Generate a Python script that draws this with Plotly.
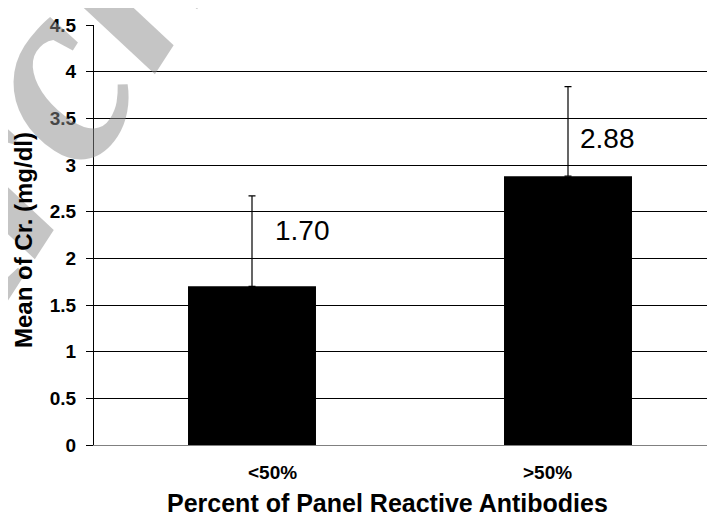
import plotly.graph_objects as go

categories = ["<50%", ">50%"]
means = [1.70, 2.88]
errors = [0.97, 0.96]
value_labels = ["1.70", "2.88"]
y_ticks = [0, 0.5, 1, 1.5, 2, 2.5, 3, 3.5, 4, 4.5]
watermark = "Archive"

FONT = "Arial, Liberation Sans, sans-serif"

# page has an 8px body margin; figure is sized to end at the window edge
W, H = 707, 505
L, T, B = 86, 17, 68
PW = W - L
PH = H - T - B

fig = go.Figure()
fig.add_trace(go.Bar(
    x=categories, y=means,
    width=0.405,
    marker=dict(color="#000000", line=dict(width=0)),
    error_y=dict(type="data", array=errors, arrayminus=[0, 0], symmetric=False,
                 color="#000000", thickness=1.2, width=3.5),
    showlegend=False,
))

# faint watermark in the top-left corner
fig.add_annotation(x=(80 - L) / PW, y=(PH + T - 4) / PH, xref="paper", yref="paper",
                   xanchor="center", yanchor="middle", textangle=-57, showarrow=False,
                   text="<b><i>%s</i></b>" % watermark,
                   font=dict(family="Liberation Serif, Times New Roman, serif", size=265,
                             color="rgba(140,140,140,0.5)"))

# value labels
label_shift = [(50, 56), (39, 38)]
for c, v, t, (dx, dy) in zip(categories, means, value_labels, label_shift):
    fig.add_annotation(x=c, y=v, text=t, showarrow=False, xref="x", yref="y",
                       xshift=dx, yshift=dy,
                       font=dict(family=FONT, size=28, color="#000000"))

# category labels (slightly offset like the original)
tick_shift = [20, -21]
for c, dx in zip(categories, tick_shift):
    fig.add_annotation(x=c, y=0, xref="x", yref="paper",
                       text="<b>%s</b>" % c.replace("<", "&lt;").replace(">", "&gt;"),
                       showarrow=False, xshift=dx, yshift=-27, yanchor="middle",
                       font=dict(family=FONT, size=19, color="#000000"))

# axis titles
fig.add_annotation(x=(387 - 94) / PW, y=0, xref="paper", yref="paper", yanchor="middle",
                   yshift=-58, text="<b>Percent of Panel Reactive Antibodies</b>",
                   showarrow=False, font=dict(family=FONT, size=25, color="#000000"))
fig.add_annotation(x=(23 - 94) / PW, y=0.5, xref="paper", yref="paper", xanchor="center",
                   yanchor="middle", yshift=-5, textangle=-90,
                   text="<b>Mean of Cr. (mg/dl)</b>",
                   showarrow=False, font=dict(family=FONT, size=24, color="#000000"))

fig.update_layout(
    width=W, height=H,
    margin=dict(l=L, r=0, t=T, b=B),
    paper_bgcolor="#ffffff", plot_bgcolor="#ffffff",
    xaxis=dict(range=[-0.5, -0.5 + PW / 316], showticklabels=False, ticks="",
               showline=True, linecolor="#808080", linewidth=1,
               showgrid=False, zeroline=False, fixedrange=True),
    yaxis=dict(range=[0, 4.5], tickvals=y_ticks, ticks="outside", ticklen=7,
               tickcolor="#000000", tickwidth=1,
               showline=True, linecolor="#000000", linewidth=1,
               showgrid=True, gridcolor="#000000", gridwidth=1,
               zeroline=False, ticklabelstandoff=6,
               tickfont=dict(family=FONT, size=19, color="#000000", weight="bold")),
)

fig.write_html("out.html")
